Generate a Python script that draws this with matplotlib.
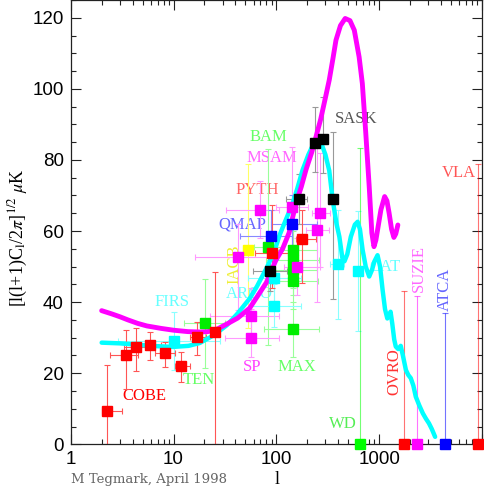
import numpy as np
import matplotlib
matplotlib.use("Agg")
import matplotlib.pyplot as plt
from matplotlib.ticker import LogLocator, MultipleLocator, FixedLocator, NullFormatter, FixedFormatter

# ---------------- data ----------------
# theory curves
mag_l = [2, 2.5, 3, 3.6, 4.5, 5.5, 7.6, 10, 13.8, 18, 21.6, 27, 33.8, 42, 55, 65, 80, 99, 115, 133,
         155, 175, 194, 220, 243, 270, 300, 327, 355, 380, 420, 467, 520, 573, 638, 686, 741, 800,
         849, 890, 930, 980, 1040, 1130, 1190, 1250, 1320, 1390, 1450, 1520]
mag_y = [37.6, 36.7, 35.9, 35.0, 34.0, 33.3, 32.6, 32.1, 31.7, 31.6, 31.7, 32.5, 34.0, 35.5, 38.3, 41.5,
         45.5, 51.8, 55.0, 59.5, 67.8, 72.5, 77.2, 82.0, 86.5, 91.5, 97.5, 102.5, 108.5, 113.7, 117.8,
         119.8, 119.2, 116.5, 109.0, 101.5, 87.5, 72.5, 59.4, 55.6, 57.5, 61.5, 66.0, 69.7, 68.5, 65.0,
         60.5, 58.2, 59.2, 61.7]

cyan_l = [2, 3, 5, 7, 10, 14, 18, 25, 33, 42, 55, 65, 80, 95, 108, 125, 144, 160, 180, 205, 234, 255,
          275, 300, 327, 352, 385, 410, 438, 460, 490, 530, 580, 617, 650, 690, 740, 800, 850, 900, 964,
          1020, 1080, 1140, 1200, 1250, 1290, 1340, 1400, 1450, 1530, 1620, 1700, 1820, 1920, 2030,
          2150, 2270, 2450, 2660, 2850, 3050, 3250, 3500]
cyan_y = [28.6, 28.4, 27.9, 27.6, 27.4, 27.7, 28.5, 30.8, 33.5, 36.8, 41.0, 44.5, 49.5, 54.0, 59.0,
          63.5, 67.8, 72.0, 77.2, 81.5, 85.0, 85.5, 84.5, 81.5, 77.0, 69.0, 62.0, 58.4, 52.5, 51.5, 53.5,
          58.4, 61.8, 62.6, 60.5, 54.7, 50.0, 47.2, 49.0, 51.5, 53.2, 50.0, 43.4, 38.0, 35.4, 36.5, 37.3,
          34.0, 29.5, 27.5, 26.8, 27.7, 25.0, 20.9, 19.5, 18.6, 16.5, 13.4, 11.0, 8.7, 7.2, 5.9, 4.3, 2.1]

# measurements (grouped by colour): l, value, lower/upper y, lower/upper l
red_l = [2.27, 3.42, 4.34, 5.88, 8.3, 11.9, 16.9, 25.5, 90.6, 178]
red_y = [9.4, 25.2, 27.3, 27.9, 25.8, 22.1, 30.3, 31.7, 53.7, 57.9]
red_ylo = [0, 15.5, 20.7, 23.7, 21.8, 17.6, 25.1, 0, 44, 45.3]
red_yhi = [22.3, 32.2, 32.6, 31.5, 28.9, 25.9, 34.5, 48.4, 67.3, 66]
red_lmin = [2.0, 2.4, 3.3, 4.7, 6.6, 10.3, 14.4, 25.0, 62, 155]
red_lmax = [3.16, 4.5, 5.6, 7.6, 10.3, 14.4, 20.8, 26.0, 130, 243]

cyan_pl = [10, 94.5, 95.6, 394, 617]
cyan_py = [29.1, 46.7, 38.9, 50.7, 48.8]
cyan_ylo = [21, 40, 33, 35.2, 31.9]
cyan_yhi = [37.2, 53, 45, 65.9, 65.6]
cyan_lmin = [2.9, 52.5, 55, 330, 590]
cyan_lmax = [28.6, 174, 174, 455, 645]

mag_pl = [42, 70, 143, 160, 248, 267, 57, 57]
mag_py = [52.7, 65.9, 66.7, 49.8, 60.3, 65.0, 36.1, 30.0]
mag_ylo = [37.8, 58, 52, 42, 40, 50, 29, 24.6]
mag_yhi = [62, 74, 83.7, 58, 84, 82, 44, 38]
mag_lmin = [16, 32.5, 100, 120, 195, 220, 22.5, 31.5]
mag_lmax = [102, 107, 205, 265, 325, 330, 107, 107]

green_l = [20.1, 82.6, 145, 145, 145, 145, 145]
green_y = [34.0, 55.6, 54.7, 51.9, 49.1, 46.0, 32.4]
green_ylo = [21.4, 28, 47, 44, 42, 38, 24.6]
green_yhi = [46.4, 83, 62, 60, 56, 54, 40]
green_lmin = [12.7, 60, 80, 80, 95, 80, 76]
green_lmax = [32, 115, 250, 260, 250, 255, 262]

blue_l = [89.5, 142]
blue_y = [58.7, 62.0]
blue_ylo = [52, 55]
blue_yhi = [66, 70]
blue_lmin = [44, 89]
blue_lmax = [143, 250]

black_l = [87.2, 165, 238, 286, 352]
black_y = [48.8, 68.9, 84.8, 85.9, 68.9]
black_ylo = [43, 62, 76.7, 76.2, 40.8]
black_yhi = [55, 76, 94.8, 97.8, 87.9]
black_lmin = [59, 124, 218, 275, 340]
black_lmax = [126, 197, 260, 300, 365]

yellow_l = [52.7]
yellow_y = [54.8]
yellow_ylo = [32.6]
yellow_yhi = [79]
yellow_lmin = [47]
yellow_lmax = [58]

# upper limits (WD, OVRO, SUZIE, ATCA, VLA)
lim_names = ["WD", "OVRO", "SUZIE", "ATCA", "VLA"]
lim_l = [654, 1728, 2352, 4335, 9118]
lim_top = [83.3, 43.2, 41.7, 36.8, 78.8]
lim_colors = ["#00ff00", "#ff0000", "#ff00ff", "#0000ff", "#ff0000"]

# labels
lab_text = ["SASK", "BAM", "MSAM", "PYTH", "QMAP", "ARGO", "FIRS", "TEN", "COBE", "SP", "MAX",
            "WD", "CAT", "VLA"]
lab_l = [368, 55, 51.5, 40, 27.5, 32, 6.6, 12.3, 3.2, 47, 102, 327, 800, 4100]
lab_y = [91.5, 86.4, 80.5, 71.5, 61.7, 42.3, 40.0, 18.1, 13.6, 21.7, 21.7, 5.7, 50.0, 76.3]
lab_col = ["#555555", "#66ff66", "#ff66ff", "#ff6666", "#6666ff", "#66ffff", "#66ffff", "#66ff66",
           "#ff0000", "#ff44ff", "#66ff66", "#55ee55", "#66ffff", "#ff5555"]
rot_text = ["OVRO", "SUZIE", "ATCA", "IACB"]
rot_l = [1390, 2420, 4335, 39]
rot_y = [20.4, 49.4, 43.7, 50.7]
rot_col = ["#ff3333", "#ff66ff", "#6666ff", "#eeee33"]

# ---------------- plot ----------------
plt.rcParams["mathtext.fontset"] = "stix"
W, H = 485, 488
fig = plt.figure(figsize=(W / 100, H / 100), dpi=100)
ax = fig.add_axes([70.7 / W, (H - 444.3) / H, (482 - 70.7) / W, 444.3 / H])
ax.set_xscale("log")
ax.set_xlim(1, 10000)
ax.set_ylim(0, 125)

def pts(lv, yv, ylo, yhi, lmin, lmax, color, ecolor):
    lv = np.array(lv); yv = np.array(yv)
    yerr = [yv - np.array(ylo), np.array(yhi) - yv]
    xerr = [lv - np.array(lmin), np.array(lmax) - lv]
    ax.errorbar(lv, yv, yerr=yerr, xerr=xerr, fmt="none", ecolor=ecolor, elinewidth=0.8,
                capsize=2.5, capthick=0.8, zorder=2)
    ax.plot(lv, yv, "s", color=color, markersize=6.5, zorder=6, clip_on=False)

pts(yellow_l, yellow_y, yellow_ylo, yellow_yhi, yellow_lmin, yellow_lmax, "#ffff00", "#ffff66")
pts(green_l, green_y, green_ylo, green_yhi, green_lmin, green_lmax, "#00ee00", "#99ff99")
pts(mag_pl, mag_py, mag_ylo, mag_yhi, mag_lmin, mag_lmax, "#ff00ff", "#ff99ff")
pts(cyan_pl, cyan_py, cyan_ylo, cyan_yhi, cyan_lmin, cyan_lmax, "#00ffff", "#88ffff")
pts(blue_l, blue_y, blue_ylo, blue_yhi, blue_lmin, blue_lmax, "#0000ff", "#8888ff")
pts(black_l, black_y, black_ylo, black_yhi, black_lmin, black_lmax, "#000000", "#999999")
pts(red_l, red_y, red_ylo, red_yhi, red_lmin, red_lmax, "#ff0000", "#ff5555")

for l, t, c in zip(lim_l, lim_top, lim_colors):
    ax.errorbar([l], [0], yerr=[[0], [t]], fmt="none", ecolor=c, alpha=0.55, elinewidth=0.8,
                capsize=2.5, capthick=0.8, zorder=2)
    ax.plot([l], [0], "s", color=c, markersize=6.5, zorder=6, clip_on=False)

ax.plot(cyan_l, cyan_y, color="#00ffff", lw=3.2, solid_capstyle="round", solid_joinstyle="round", zorder=3)
ax.plot(mag_l, mag_y, color="#ff00ff", lw=3.5, solid_capstyle="round", solid_joinstyle="round", zorder=4)

for t, l, y, c in zip(lab_text, lab_l, lab_y, lab_col):
    ax.text(l, y, t, color=c, fontsize=12, family="Liberation Serif", ha="left", va="center", zorder=1)
for t, l, y, c in zip(rot_text, rot_l, rot_y, rot_col):
    ax.text(l, y, t, color=c, fontsize=12, family="Liberation Serif", ha="center", va="center",
            rotation=90, zorder=1)

# ticks
ax.xaxis.set_major_locator(FixedLocator([1, 10, 100, 1000, 10000]))
ax.xaxis.set_major_formatter(FixedFormatter(["1", "10", "100", "1000", ""]))
ax.xaxis.set_minor_locator(LogLocator(base=10, subs=np.arange(2, 10), numticks=20))
ax.xaxis.set_minor_formatter(NullFormatter())
ax.yaxis.set_major_locator(MultipleLocator(20))
ax.yaxis.set_minor_locator(MultipleLocator(5))
ax.tick_params(which="both", direction="in", top=True, right=True, width=0.8, color="#222222")
ax.tick_params(which="major", length=7.5, labelsize=13.5, pad=5)
ax.tick_params(which="minor", length=3.8)
for lab in ax.get_xticklabels() + ax.get_yticklabels():
    lab.set_family("Liberation Sans")
for s in ax.spines.values():
    s.set_linewidth(0.9)
    s.set_color("#222222")

fig.text(18 / W, 1 - 238 / H, r"[l(l+1)C$_{\rm l}$/2$\pi$]$^{1/2}$ $\mu$K", rotation=90,
         ha="center", va="center", fontsize=13, family="Liberation Serif")
fig.text(277 / W, 1 - 479 / H, "l", ha="center", va="center", fontsize=13, family="Liberation Serif")
fig.text(71 / W, 1 - 480 / H, "M Tegmark, April 1998", ha="left", va="center", fontsize=9.5,
         family="DejaVu Serif", color="#666666")

fig.savefig("out.png", dpi=100)
